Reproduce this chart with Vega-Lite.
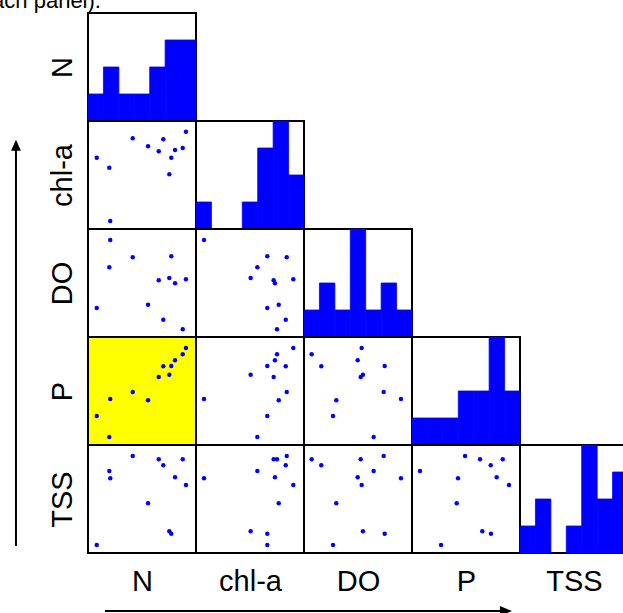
{
  "$schema": "https://vega.github.io/schema/vega-lite/v6.json",
  "padding": {"left": -29, "top": -12, "right": -5, "bottom": -1},
  "background": "white",
  "columns": 5,
  "spacing": 0,
  "bounds": "flush",
  "datasets": {
    "obs": [
      {"N": 0.081, "chla": 0.660, "DO": 0.269, "P": 0.269, "TSS": 0.074},
      {"N": 0.197, "chla": 0.568, "DO": 0.645, "P": 0.074, "TSS": 0.759},
      {"N": 0.206, "chla": 0.074, "DO": 0.898, "P": 0.426, "TSS": 0.692},
      {"N": 0.414, "chla": 0.840, "DO": 0.738, "P": 0.491, "TSS": 0.898},
      {"N": 0.556, "chla": 0.766, "DO": 0.299, "P": 0.414, "TSS": 0.460},
      {"N": 0.655, "chla": 0.719, "DO": 0.525, "P": 0.630, "TSS": 0.868},
      {"N": 0.697, "chla": 0.831, "DO": 0.160, "P": 0.729, "TSS": 0.812},
      {"N": 0.753, "chla": 0.506, "DO": 0.546, "P": 0.651, "TSS": 0.201},
      {"N": 0.771, "chla": 0.660, "DO": 0.747, "P": 0.731, "TSS": 0.179},
      {"N": 0.806, "chla": 0.731, "DO": 0.497, "P": 0.784, "TSS": 0.701},
      {"N": 0.877, "chla": 0.750, "DO": 0.071, "P": 0.840, "TSS": 0.868},
      {"N": 0.907, "chla": 0.901, "DO": 0.534, "P": 0.898, "TSS": 0.630}
    ],
    "hist": [
      {"var": "N", "b0": 0.0, "b1": 0.1429, "count": 1},
      {"var": "N", "b0": 0.1429, "b1": 0.2857, "count": 2},
      {"var": "N", "b0": 0.2857, "b1": 0.4286, "count": 1},
      {"var": "N", "b0": 0.4286, "b1": 0.5714, "count": 1},
      {"var": "N", "b0": 0.5714, "b1": 0.7143, "count": 2},
      {"var": "N", "b0": 0.7143, "b1": 0.8571, "count": 3},
      {"var": "N", "b0": 0.8571, "b1": 1.0, "count": 3},
      {"var": "chla", "b0": 0.0, "b1": 0.1429, "count": 1},
      {"var": "chla", "b0": 0.1429, "b1": 0.2857, "count": 0},
      {"var": "chla", "b0": 0.2857, "b1": 0.4286, "count": 0},
      {"var": "chla", "b0": 0.4286, "b1": 0.5714, "count": 1},
      {"var": "chla", "b0": 0.5714, "b1": 0.7143, "count": 3},
      {"var": "chla", "b0": 0.7143, "b1": 0.8571, "count": 4},
      {"var": "chla", "b0": 0.8571, "b1": 1.0, "count": 2},
      {"var": "DO", "b0": 0.0, "b1": 0.1429, "count": 1},
      {"var": "DO", "b0": 0.1429, "b1": 0.2857, "count": 2},
      {"var": "DO", "b0": 0.2857, "b1": 0.4286, "count": 1},
      {"var": "DO", "b0": 0.4286, "b1": 0.5714, "count": 4},
      {"var": "DO", "b0": 0.5714, "b1": 0.7143, "count": 1},
      {"var": "DO", "b0": 0.7143, "b1": 0.8571, "count": 2},
      {"var": "DO", "b0": 0.8571, "b1": 1.0, "count": 1},
      {"var": "P", "b0": 0.0, "b1": 0.1429, "count": 1},
      {"var": "P", "b0": 0.1429, "b1": 0.2857, "count": 1},
      {"var": "P", "b0": 0.2857, "b1": 0.4286, "count": 1},
      {"var": "P", "b0": 0.4286, "b1": 0.5714, "count": 2},
      {"var": "P", "b0": 0.5714, "b1": 0.7143, "count": 2},
      {"var": "P", "b0": 0.7143, "b1": 0.8571, "count": 4},
      {"var": "P", "b0": 0.8571, "b1": 1.0, "count": 2},
      {"var": "TSS", "b0": 0.0, "b1": 0.1429, "count": 1},
      {"var": "TSS", "b0": 0.1429, "b1": 0.2857, "count": 2},
      {"var": "TSS", "b0": 0.2857, "b1": 0.4286, "count": 0},
      {"var": "TSS", "b0": 0.4286, "b1": 0.5714, "count": 1},
      {"var": "TSS", "b0": 0.5714, "b1": 0.7143, "count": 4},
      {"var": "TSS", "b0": 0.7143, "b1": 0.8571, "count": 2},
      {"var": "TSS", "b0": 0.8571, "b1": 1.0, "count": 3}
    ]
  },
  "config": {
    "view": {"stroke": "black", "strokeWidth": 2, "continuousWidth": 108, "continuousHeight": 108},
    "axis": {"titleFont": "Liberation Sans", "titleFontSize": 29, "titleFontWeight": "normal", "titleColor": "black", "labels": false, "ticks": false, "domain": false, "grid": false},
    "axisLeft": {"titlePadding": 11},
    "axisBottom": {"titlePadding": 14}
  },
  "concat": [
    {
      "width": 108, "height": 108,
      "layer": [
        {
          "data": {"name": "hist"},
          "transform": [{"filter": "datum.var == 'N' && datum.count > 0"}],
          "mark": {"type": "rect", "color": "#0000ff", "stroke": "#0000ff", "strokeWidth": 0.8},
          "encoding": {
            "x": {"field": "b0", "type": "quantitative", "scale": {"domain": [0, 1], "nice": false, "zero": false}, "axis": null},
            "x2": {"field": "b1"},
            "y": {"field": "count", "type": "quantitative", "scale": {"domain": [0, 4], "nice": false}, "axis": {"title": "N"}},
            "y2": {"datum": 0}
          }
        },
        {
          "data": {"values": [{"caption": "(each panel)."}]},
          "mark": {"type": "text", "font": "Liberation Sans", "fontSize": 22, "align": "right", "baseline": "alphabetic", "color": "black"},
          "encoding": {
            "x": {"datum": 0.12, "type": "quantitative", "scale": {"domain": [0, 1], "nice": false, "zero": false}},
            "y": {"datum": 4.2, "type": "quantitative", "scale": {"domain": [0, 4], "nice": false}},
            "text": {"field": "caption"}
          }
        }
      ]
    },
    {"width": 108, "height": 108, "data": {"values": []}, "mark": "point", "view": {"stroke": null}},
    {"width": 108, "height": 108, "data": {"values": []}, "mark": "point", "view": {"stroke": null}},
    {"width": 108, "height": 108, "data": {"values": []}, "mark": "point", "view": {"stroke": null}},
    {"width": 108, "height": 108, "data": {"values": []}, "mark": "point", "view": {"stroke": null}},

    {
      "width": 108, "height": 108, "data": {"name": "obs"},
      "mark": {"type": "circle", "size": 20, "color": "#0000ff", "opacity": 1},
      "encoding": {
        "x": {"field": "N", "type": "quantitative", "scale": {"domain": [0, 1], "nice": false, "zero": false}, "axis": null},
        "y": {"field": "chla", "type": "quantitative", "scale": {"domain": [0, 1], "nice": false, "zero": false}, "axis": {"title": "chl-a"}}
      }
    },
    {
      "width": 108, "height": 108, "data": {"name": "hist"},
      "transform": [{"filter": "datum.var == 'chla' && datum.count > 0"}],
      "mark": {"type": "rect", "color": "#0000ff", "stroke": "#0000ff", "strokeWidth": 0.8},
      "encoding": {
        "x": {"field": "b0", "type": "quantitative", "scale": {"domain": [0, 1], "nice": false, "zero": false}, "axis": null},
        "x2": {"field": "b1"},
        "y": {"field": "count", "type": "quantitative", "scale": {"domain": [0, 4], "nice": false}, "axis": null},
        "y2": {"datum": 0}
      }
    },
    {"width": 108, "height": 108, "data": {"values": []}, "mark": "point", "view": {"stroke": null}},
    {"width": 108, "height": 108, "data": {"values": []}, "mark": "point", "view": {"stroke": null}},
    {"width": 108, "height": 108, "data": {"values": []}, "mark": "point", "view": {"stroke": null}},

    {
      "width": 108, "height": 108, "data": {"name": "obs"},
      "mark": {"type": "circle", "size": 20, "color": "#0000ff", "opacity": 1},
      "encoding": {
        "x": {"field": "N", "type": "quantitative", "scale": {"domain": [0, 1], "nice": false, "zero": false}, "axis": null},
        "y": {"field": "DO", "type": "quantitative", "scale": {"domain": [0, 1], "nice": false, "zero": false}, "axis": {"title": "DO"}}
      }
    },
    {
      "width": 108, "height": 108, "data": {"name": "obs"},
      "mark": {"type": "circle", "size": 20, "color": "#0000ff", "opacity": 1},
      "encoding": {
        "x": {"field": "chla", "type": "quantitative", "scale": {"domain": [0, 1], "nice": false, "zero": false}, "axis": null},
        "y": {"field": "DO", "type": "quantitative", "scale": {"domain": [0, 1], "nice": false, "zero": false}, "axis": null}
      }
    },
    {
      "width": 108, "height": 108, "data": {"name": "hist"},
      "transform": [{"filter": "datum.var == 'DO' && datum.count > 0"}],
      "mark": {"type": "rect", "color": "#0000ff", "stroke": "#0000ff", "strokeWidth": 0.8},
      "encoding": {
        "x": {"field": "b0", "type": "quantitative", "scale": {"domain": [0, 1], "nice": false, "zero": false}, "axis": null},
        "x2": {"field": "b1"},
        "y": {"field": "count", "type": "quantitative", "scale": {"domain": [0, 4], "nice": false}, "axis": null},
        "y2": {"datum": 0}
      }
    },
    {"width": 108, "height": 108, "data": {"values": []}, "mark": "point", "view": {"stroke": null}},
    {"width": 108, "height": 108, "data": {"values": []}, "mark": "point", "view": {"stroke": null}},

    {
      "width": 108, "height": 108, "data": {"name": "obs"},
      "view": {"fill": "#ffff00", "stroke": "black", "strokeWidth": 2},
      "mark": {"type": "circle", "size": 20, "color": "#0000ff", "opacity": 1},
      "encoding": {
        "x": {"field": "N", "type": "quantitative", "scale": {"domain": [0, 1], "nice": false, "zero": false}, "axis": null},
        "y": {"field": "P", "type": "quantitative", "scale": {"domain": [0, 1], "nice": false, "zero": false}, "axis": {"title": "P"}}
      }
    },
    {
      "width": 108, "height": 108, "data": {"name": "obs"},
      "mark": {"type": "circle", "size": 20, "color": "#0000ff", "opacity": 1},
      "encoding": {
        "x": {"field": "chla", "type": "quantitative", "scale": {"domain": [0, 1], "nice": false, "zero": false}, "axis": null},
        "y": {"field": "P", "type": "quantitative", "scale": {"domain": [0, 1], "nice": false, "zero": false}, "axis": null}
      }
    },
    {
      "width": 108, "height": 108, "data": {"name": "obs"},
      "mark": {"type": "circle", "size": 20, "color": "#0000ff", "opacity": 1},
      "encoding": {
        "x": {"field": "DO", "type": "quantitative", "scale": {"domain": [0, 1], "nice": false, "zero": false}, "axis": null},
        "y": {"field": "P", "type": "quantitative", "scale": {"domain": [0, 1], "nice": false, "zero": false}, "axis": null}
      }
    },
    {
      "width": 108, "height": 108, "data": {"name": "hist"},
      "transform": [{"filter": "datum.var == 'P' && datum.count > 0"}],
      "mark": {"type": "rect", "color": "#0000ff", "stroke": "#0000ff", "strokeWidth": 0.8},
      "encoding": {
        "x": {"field": "b0", "type": "quantitative", "scale": {"domain": [0, 1], "nice": false, "zero": false}, "axis": null},
        "x2": {"field": "b1"},
        "y": {"field": "count", "type": "quantitative", "scale": {"domain": [0, 4], "nice": false}, "axis": null},
        "y2": {"datum": 0}
      }
    },
    {"width": 108, "height": 108, "data": {"values": []}, "mark": "point", "view": {"stroke": null}},

    {
      "width": 108, "height": 108,
      "layer": [
        {
          "data": {"name": "obs"},
          "mark": {"type": "circle", "size": 20, "color": "#0000ff", "opacity": 1},
          "encoding": {
            "x": {"field": "N", "type": "quantitative", "scale": {"domain": [0, 1], "nice": false, "zero": false}, "axis": {"title": "N"}},
            "y": {"field": "TSS", "type": "quantitative", "scale": {"domain": [0, 1], "nice": false, "zero": false}, "axis": {"title": "TSS"}}
          }
        },
        {
          "data": {"values": [{"arrow": "rows"}]},
          "mark": {"type": "rule", "color": "black", "strokeWidth": 2},
          "encoding": {
            "x": {"datum": -0.667, "type": "quantitative", "scale": {"domain": [0, 1], "nice": false, "zero": false}},
            "y": {"datum": 0.065, "type": "quantitative", "scale": {"domain": [0, 1], "nice": false, "zero": false}},
            "y2": {"datum": 3.75}
          }
        },
        {
          "data": {"values": [{"arrow": "rows"}]},
          "mark": {"type": "point", "filled": true, "color": "black", "opacity": 1, "size": 121, "shape": "M0,-1L0.9,1L-0.9,1Z"},
          "encoding": {
            "x": {"datum": -0.667, "type": "quantitative", "scale": {"domain": [0, 1], "nice": false, "zero": false}},
            "y": {"datum": 3.776, "type": "quantitative", "scale": {"domain": [0, 1], "nice": false, "zero": false}}
          }
        },
        {
          "data": {"values": [{"arrow": "columns"}]},
          "mark": {"type": "rule", "color": "black", "strokeWidth": 2},
          "encoding": {
            "x": {"datum": 0.157, "type": "quantitative", "scale": {"domain": [0, 1], "nice": false, "zero": false}},
            "x2": {"datum": 3.85},
            "y": {"datum": -0.537, "type": "quantitative", "scale": {"domain": [0, 1], "nice": false, "zero": false}}
          }
        },
        {
          "data": {"values": [{"arrow": "columns"}]},
          "mark": {"type": "point", "filled": true, "color": "black", "opacity": 1, "size": 144, "shape": "M1,0L-1,0.85L-1,-0.85Z"},
          "encoding": {
            "x": {"datum": 3.87, "type": "quantitative", "scale": {"domain": [0, 1], "nice": false, "zero": false}},
            "y": {"datum": -0.537, "type": "quantitative", "scale": {"domain": [0, 1], "nice": false, "zero": false}}
          }
        }
      ]
    },
    {
      "width": 108, "height": 108, "data": {"name": "obs"},
      "mark": {"type": "circle", "size": 20, "color": "#0000ff", "opacity": 1},
      "encoding": {
        "x": {"field": "chla", "type": "quantitative", "scale": {"domain": [0, 1], "nice": false, "zero": false}, "axis": {"title": "chl-a"}},
        "y": {"field": "TSS", "type": "quantitative", "scale": {"domain": [0, 1], "nice": false, "zero": false}, "axis": null}
      }
    },
    {
      "width": 108, "height": 108, "data": {"name": "obs"},
      "mark": {"type": "circle", "size": 20, "color": "#0000ff", "opacity": 1},
      "encoding": {
        "x": {"field": "DO", "type": "quantitative", "scale": {"domain": [0, 1], "nice": false, "zero": false}, "axis": {"title": "DO"}},
        "y": {"field": "TSS", "type": "quantitative", "scale": {"domain": [0, 1], "nice": false, "zero": false}, "axis": null}
      }
    },
    {
      "width": 108, "height": 108, "data": {"name": "obs"},
      "mark": {"type": "circle", "size": 20, "color": "#0000ff", "opacity": 1},
      "encoding": {
        "x": {"field": "P", "type": "quantitative", "scale": {"domain": [0, 1], "nice": false, "zero": false}, "axis": {"title": "P"}},
        "y": {"field": "TSS", "type": "quantitative", "scale": {"domain": [0, 1], "nice": false, "zero": false}, "axis": null}
      }
    },
    {
      "width": 108, "height": 108, "data": {"name": "hist"},
      "transform": [{"filter": "datum.var == 'TSS' && datum.count > 0"}],
      "mark": {"type": "rect", "color": "#0000ff", "stroke": "#0000ff", "strokeWidth": 0.8},
      "encoding": {
        "x": {"field": "b0", "type": "quantitative", "scale": {"domain": [0, 1], "nice": false, "zero": false}, "axis": {"title": "TSS"}},
        "x2": {"field": "b1"},
        "y": {"field": "count", "type": "quantitative", "scale": {"domain": [0, 4], "nice": false}, "axis": null},
        "y2": {"datum": 0}
      }
    }
  ]
}
